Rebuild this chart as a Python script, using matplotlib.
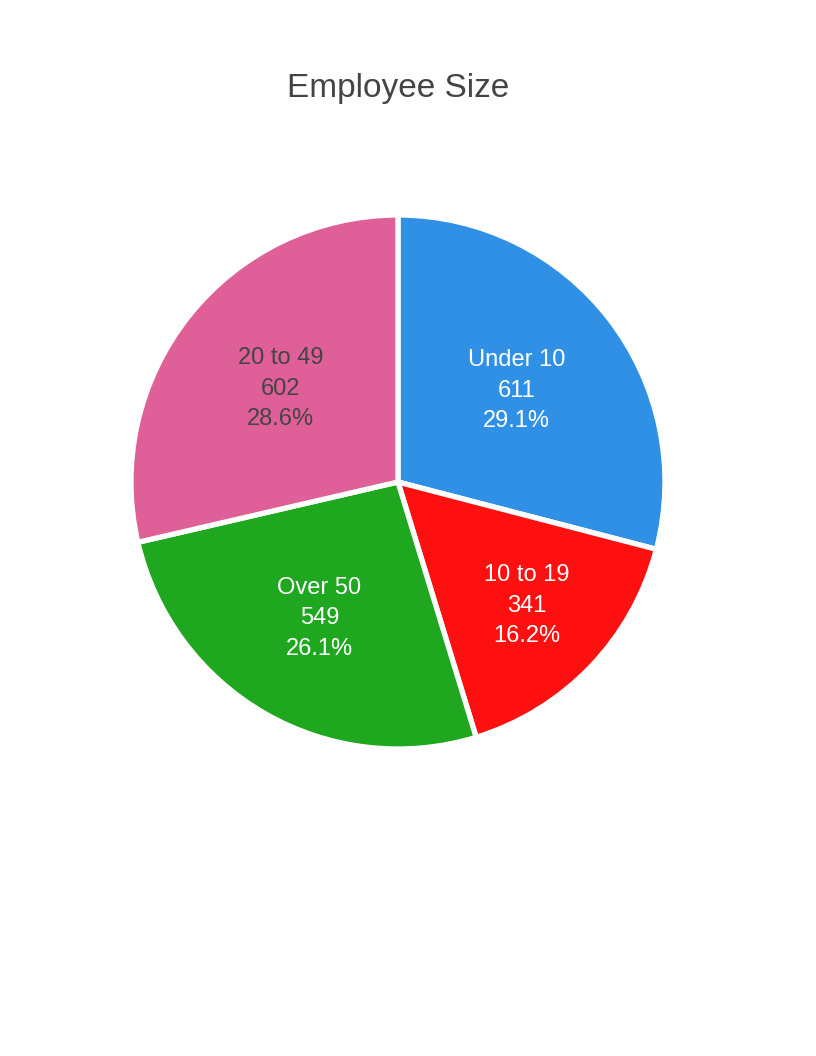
import numpy as np
import matplotlib
matplotlib.use("Agg")
import matplotlib.pyplot as plt

labels = ["Under 10", "10 to 19", "Over 50", "20 to 49"]
counts = [611, 341, 549, 602]
colors = ["#2F90E5", "#FF1010", "#1FA71F", "#DF5F98"]
text_colors = ["white", "white", "white", "#444444"]
# how far from the centre each label sits (fraction of radius)
label_dist = [0.56, 0.67, 0.59, 0.56]

plt.rcParams['font.family'] = ['Liberation Sans', 'DejaVu Sans']


def main():
    fig = plt.figure(figsize=(8.16, 10.56), dpi=100)
    ax = fig.add_axes([0.1605, 0.2907, 0.6544, 0.5057])
    wedges, _ = ax.pie(counts, colors=colors, startangle=90, counterclock=False,
                       wedgeprops=dict(edgecolor="white", linewidth=3.8))
    ax.set_xlim(-1, 1)
    ax.set_ylim(-1, 1)
    ax.set_aspect("equal")

    total = sum(counts)
    for w, lab, n, tc, d in zip(wedges, labels, counts, text_colors, label_dist):
        mid = np.deg2rad((w.theta1 + w.theta2) / 2)
        x, y = d * np.cos(mid), d * np.sin(mid)
        txt = f"{lab}\n{n}\n{n / total * 100:.1f}%"
        ax.text(x, y, txt, ha="center", va="center", color=tc,
                fontsize=17, linespacing=1.5)

    fig.text(0.4877, 1 - 89 / 1056, "Employee Size", ha="center", va="center",
             fontsize=24, color="#444444")
    fig.savefig("out.png", dpi=100)


if __name__ == "__main__":
    main()
